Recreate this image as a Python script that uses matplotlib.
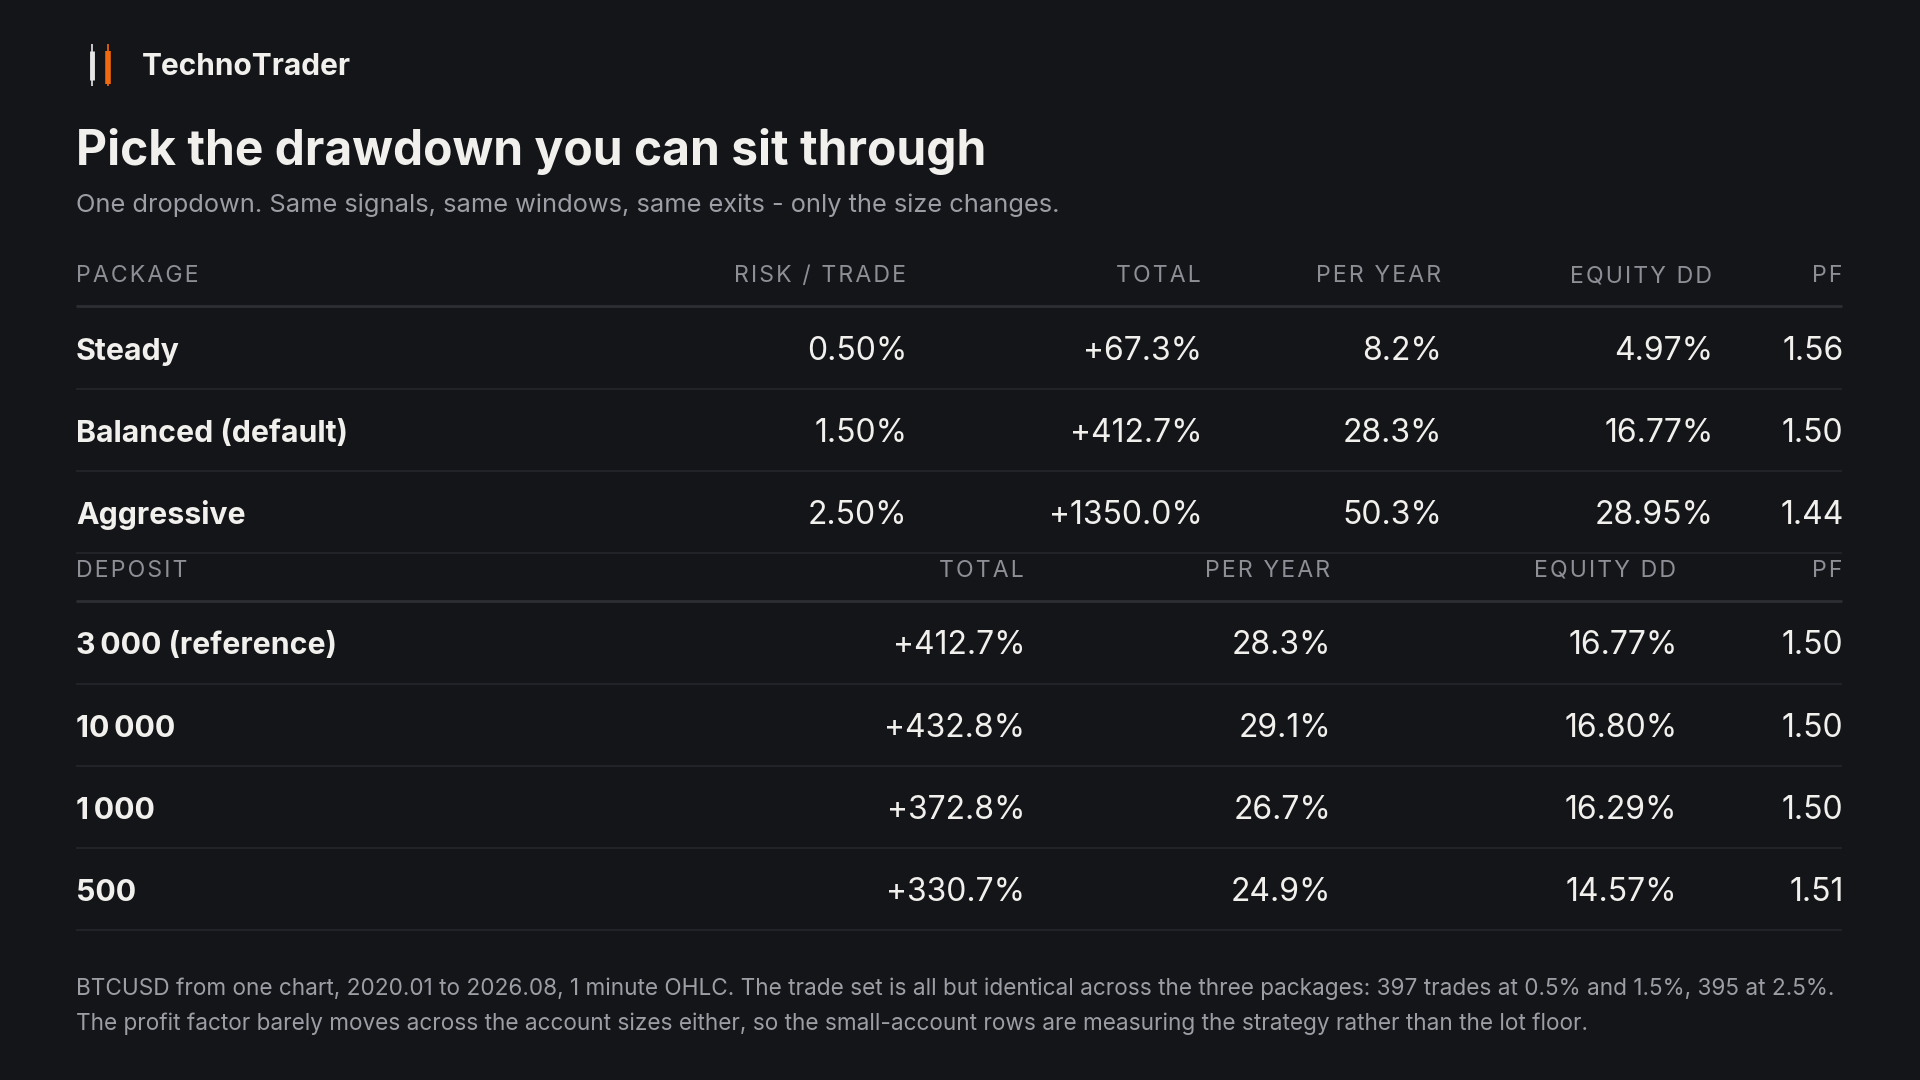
import matplotlib
matplotlib.use('Agg')
from matplotlib import pyplot as plt

# package table
packages = ["Steady", "Balanced (default)", "Aggressive"]
risk_per_trade = [0.50, 1.50, 2.50]
pkg_total = [67.3, 412.7, 1350.0]
pkg_per_year = [8.2, 28.3, 50.3]
pkg_equity_dd = [4.97, 16.77, 28.95]
pkg_pf = [1.56, 1.50, 1.44]

# deposit table
deposits = ["3\u2009000 (reference)", "10\u2009000", "1\u2009000", "500"]
dep_total = [412.7, 432.8, 372.8, 330.7]
dep_per_year = [28.3, 29.1, 26.7, 24.9]
dep_equity_dd = [16.77, 16.80, 16.29, 14.57]
dep_pf = [1.50, 1.50, 1.50, 1.51]

pkg_headers = ["PACKAGE", "RISK / TRADE", "TOTAL", "PER YEAR", "EQUITY DD", "PF"]
dep_headers = ["DEPOSIT", "TOTAL", "PER YEAR", "EQUITY DD", "PF"]

BG = '#141519'
FG = '#f1f0ed'
HEAD = '#8e8f96'
SUB = '#9d9ea5'
LINE_HEAD = '#2d2e34'
LINE_ROW = '#222328'
ORANGE = '#f26a10'

plt.rcParams['font.family'] = ['Inter', 'DejaVu Sans']

fig = plt.figure(figsize=(19.2, 10.8), dpi=100, facecolor=BG)
ax = fig.add_axes([0, 0, 1, 1])
ax.set_facecolor(BG)
ax.set_xlim(0, 1920)
ax.set_ylim(1080, 0)
ax.axis('off')

LEFT = 76
RIGHT = 1842


def spaced(s):
    return '\u200a'.join(s)


# logo
ax.vlines(92, 44, 86, color='#e6e6e6', lw=1.2)
ax.vlines(92, 51, 80, color='#e6e6e6', lw=3.5)
ax.vlines(108, 44, 86, color=ORANGE, lw=1.2)
ax.vlines(108, 51, 84, color=ORANGE, lw=4)
ax.text(142, 75, "TechnoTrader", color=FG, fontsize=21.5, fontweight='bold',
        va='baseline', ha='left')

ax.text(LEFT, 165, "Pick the drawdown you can sit through", color=FG,
        fontsize=34.5, fontweight='bold', va='baseline', ha='left')
ax.text(LEFT, 212, "One dropdown. Same signals, same windows, same exits - only the size changes.",
        color=SUB, fontsize=18.3, va='baseline', ha='left')


def draw_table(y_head, headers, col_right, names, cols, fmts):
    ax.text(LEFT, y_head + 9, spaced(headers[0]), color=HEAD, fontsize=16.6,
            va='baseline', ha='left')
    for h, x in zip(headers[1:], col_right):
        ax.text(x, y_head + 9, spaced(h), color=HEAD, fontsize=16.6,
                va='baseline', ha='right')
    y_line = y_head + 33
    ax.hlines(y_line, LEFT, RIGHT, color=LINE_HEAD, lw=2)
    pitch = 82.2
    for i, name in enumerate(names):
        yc = y_line + 42 + i * pitch
        ax.text(LEFT, yc + 11.5, name, color=FG, fontsize=21.8, fontweight='bold',
                va='baseline', ha='left')
        for vals, fmt, x in zip(cols, fmts, col_right):
            ax.text(x + 1.5, yc + 11.5, fmt(vals[i]), color=FG, fontsize=23,
                    va='baseline', ha='right')
        ax.hlines(yc + 40.5, LEFT, RIGHT, color=LINE_ROW, lw=1.5)


pct2 = lambda v: f"{v:.2f}%"
plus1 = lambda v: f"+{v:.1f}%"
pct1 = lambda v: f"{v:.1f}%"
num2 = lambda v: f"{v:.2f}"

draw_table(273, pkg_headers, [906, 1201, 1441, 1712, RIGHT], packages,
           [risk_per_trade, pkg_total, pkg_per_year, pkg_equity_dd, pkg_pf],
           [pct2, plus1, pct1, pct2, num2])
draw_table(568, dep_headers, [1024, 1330, 1676, RIGHT], deposits,
           [dep_total, dep_per_year, dep_equity_dd, dep_pf],
           [plus1, pct1, pct2, num2])

ax.text(LEFT, 995, "BTCUSD from one chart, 2020.01 to 2026.08, 1 minute OHLC. The trade set is all but identical "
        "across the three packages: 397 trades at 0.5% and 1.5%, 395 at 2.5%.",
        color=SUB, fontsize=16.25, va='baseline', ha='left')
ax.text(LEFT, 1030, "The profit factor barely moves across the account sizes either, so the small-account rows "
        "are measuring the strategy rather than the lot floor.",
        color=SUB, fontsize=16.25, va='baseline', ha='left')

plt.savefig('out.png', dpi=100, facecolor=BG)
plt.close('all')
